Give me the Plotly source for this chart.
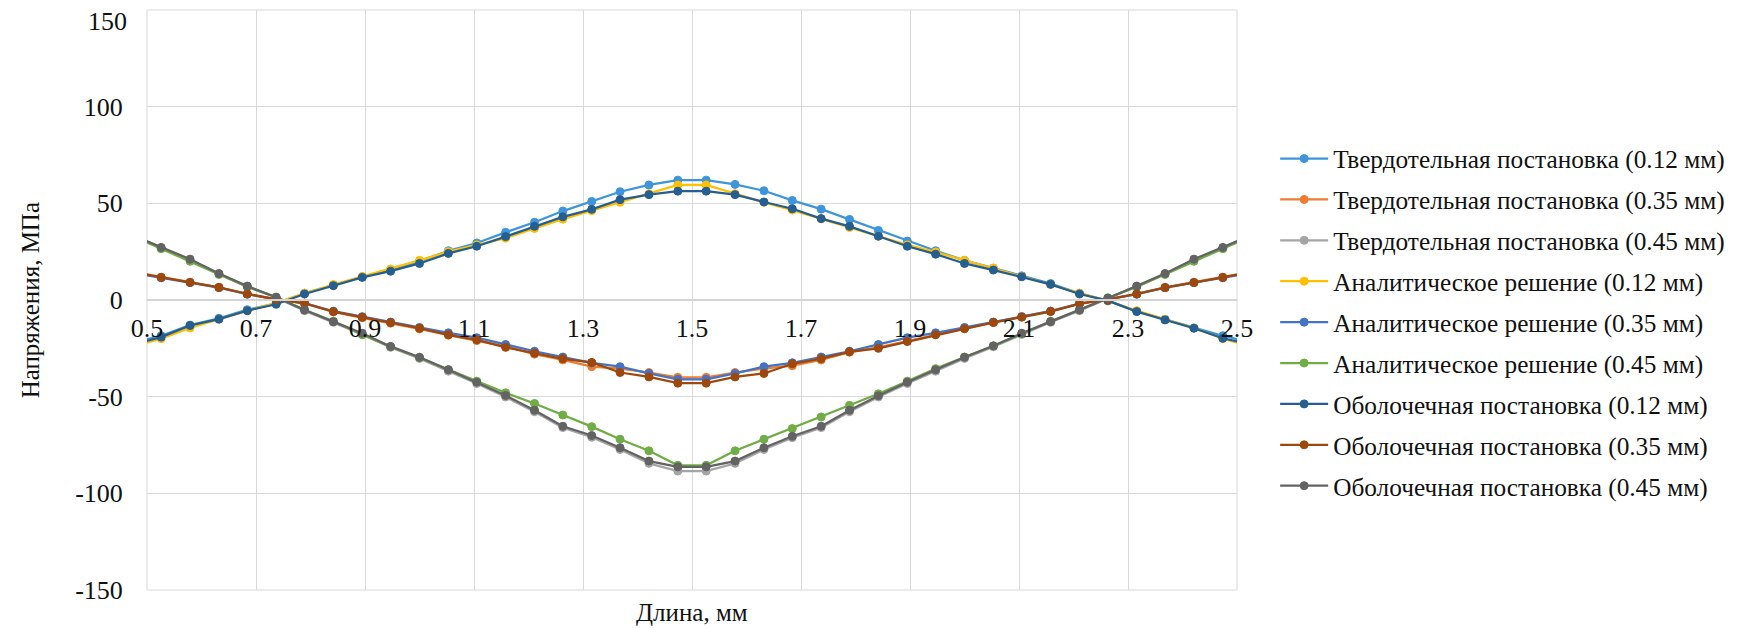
import plotly.graph_objects as go

# Длина, мм (points outside 0.5..2.5 are clipped by the axis range, as in the source)
x_mm = [0.474, 0.526, 0.579, 0.632, 0.684, 0.737, 0.789, 0.842, 0.895, 0.947,
        1.000, 1.053, 1.105, 1.158, 1.211, 1.263, 1.316, 1.368, 1.421, 1.474,
        1.526, 1.579, 1.632, 1.684, 1.737, 1.789, 1.842, 1.895, 1.947, 2.000,
        2.053, 2.105, 2.158, 2.211, 2.263, 2.316, 2.368, 2.421, 2.474, 2.526]

solid_012 = [-22, -18.5, -13, -9.5, -5, -1.8, 3.5, 7.8, 12, 15.8,
             20, 25.5, 29.5, 35, 40.2, 46, 51, 56, 59.5, 62,
             62, 59.8, 56.5, 51.5, 47, 41.7, 36, 30.5, 25.5, 20.5,
             16.5, 12.5, 8.5, 3.5, -0.3, -5.8, -10, -14.5, -18.5, -22]
solid_035 = [14.5, 11.8, 9.2, 6.6, 3.2, 0.4, -1.8, -6.2, -9.2, -12,
             -15, -18.2, -21, -24, -28, -31, -34.5, -35.5, -37.5, -40,
             -40, -37.5, -35.5, -34, -31, -27, -24.5, -21.2, -17.8, -14.6,
             -11.5, -8.6, -5.8, -1.8, 0.4, 3.2, 6.6, 9.2, 11.8, 14.5]
solid_045 = [33.5, 27, 21, 13.5, 7, 1.2, -5.5, -11.5, -17.8, -24.5,
             -30.2, -36.8, -43.2, -50.2, -57.8, -66, -71, -77.3, -84.5, -88.5,
             -88.5, -84.5, -77.3, -71.2, -66, -57.8, -50.2, -43.2, -36.8, -30.2,
             -24.2, -17.8, -11.5, -5.5, 0.8, 7, 13.5, 21, 27, 33.5]
analytic_012 = [-24, -20, -14.5, -10, -5.5, -1.5, 3.5, 8, 12.2, 16,
                20.5, 25, 28.5, 32, 37, 41.8, 46.2, 50.5, 55, 59.5,
                59.5, 55, 50.5, 46.5, 42, 37.5, 33, 28.5, 24.8, 20.5,
                16.5, 12.2, 8, 3.5, -0.5, -5.5, -10, -14.5, -20, -24]
analytic_035 = [14, 11.5, 9, 6.4, 3, 0.3, -1.6, -5.8, -8.6, -11.4,
                -14.2, -17, -19.5, -23, -26.5, -29.5, -32.5, -34.5, -38, -41,
                -41, -38, -34.5, -32.5, -29.5, -26.5, -23, -19.5, -17, -14.2,
                -11.4, -8.6, -5.8, -1.8, 0.3, 3, 6.4, 9, 11.5, 14]
analytic_045 = [33, 26.5, 20, 13.2, 6.8, 1.5, -5, -11, -18, -24.2,
                -29.8, -36, -42, -48, -53.5, -59.5, -65.5, -72, -78, -85.5,
                -85.5, -78, -72, -66.5, -60.5, -54.5, -48.5, -42, -35.5, -29.5,
                -23.8, -17.5, -11, -5, 1.2, 6.8, 13.2, 20, 26.5, 33]
shell_012 = [-23, -19.2, -13.2, -9.9, -5.5, -2.2, 3.1, 7.4, 11.7, 14.9,
             18.9, 24.1, 27.8, 32.8, 38.1, 43, 46.9, 51.9, 54.5, 56.3,
             56.3, 54.5, 50.7, 47.2, 42.1, 38.1, 33, 27.8, 23.7, 18.9,
             15.5, 12, 8.1, 3.1, -0.3, -6, -10.3, -14.6, -19.8, -23]
shell_035 = [14.5, 11.7, 9.1, 6.5, 3.1, 0.3, -1.7, -6, -8.9, -11.7,
             -14.6, -18, -20.6, -24.5, -27.5, -30.4, -32.3, -37.5, -39.8, -43,
             -43, -39.8, -38, -33, -30.4, -26.8, -25, -21.5, -18, -14.9,
             -11.7, -8.9, -6, -2, 0.3, 3.1, 6.4, 9, 11.7, 14.5]
shell_045 = [33.5, 27.2, 21.1, 13.7, 7.2, 1.4, -5.2, -11.2, -17.2, -24,
             -29.6, -36.1, -42.5, -49.4, -57, -65.3, -70.1, -76.4, -83.3, -86.3,
             -86.3, -83.3, -76.4, -70.5, -65.3, -57, -49.5, -42.5, -36.1, -29.6,
             -23.7, -17.2, -11.2, -5.2, 0.9, 7.2, 13.7, 21.1, 27.2, 33.5]

series_names = [
    "Твердотельная постановка (0.12 мм)",
    "Твердотельная постановка (0.35 мм)",
    "Твердотельная постановка (0.45 мм)",
    "Аналитическое решение (0.12 мм)",
    "Аналитическое решение (0.35 мм)",
    "Аналитическое решение (0.45 мм)",
    "Оболочечная постановка (0.12 мм)",
    "Оболочечная постановка (0.35 мм)",
    "Оболочечная постановка (0.45 мм)",
]
series_values = [solid_012, solid_035, solid_045,
                 analytic_012, analytic_035, analytic_045,
                 shell_012, shell_035, shell_045]
series_colors = ["#3E95DB", "#ED7D31", "#A5A5A5",
                 "#FFC000", "#4472C4", "#70AD47",
                 "#255E91", "#9E480E", "#636363"]

x_ticks = [0.5, 0.7, 0.9, 1.1, 1.3, 1.5, 1.7, 1.9, 2.1, 2.3, 2.5]
x_tick_text = ["0.5", "0.7", "0.9", "1.1", "1.3", "1.5", "1.7", "1.9", "2.1", "2.3", "2.5"]
y_ticks = [-150, -100, -50, 0, 50, 100]
y_tick_text = ["-150", "-100", "-50", "0", "50", "100"]
y_top_tick = "150"

FONT = "Liberation Serif"
TXT = "#111111"

fig = go.Figure()
for i, (name, vals, col) in enumerate(zip(series_names, series_values, series_colors)):
    fig.add_trace(go.Scatter(
        x=x_mm, y=vals, name=name, mode="lines+markers",
        line=dict(color=col, width=2.25),
        marker=dict(color=col, size=8, line=dict(color=col, width=1)),
        legendgroup=f"g{i}",
        cliponaxis=True,
    ))

fig.update_layout(
    width=1747, height=628,
    margin=dict(l=147, r=510, t=10, b=38),
    paper_bgcolor="white", plot_bgcolor="white",
    font=dict(family=FONT, size=25, color=TXT),
    showlegend=True,
    legend=dict(
        x=1.035, xanchor="left", y=0.461, yanchor="middle",
        font=dict(family=FONT, size=25.3, color=TXT),
        tracegroupgap=5, itemwidth=48,
        bgcolor="rgba(0,0,0,0)",
    ),
    xaxis=dict(
        range=[0.5, 2.5], tickvals=x_ticks, ticktext=x_tick_text,
        showgrid=True, gridcolor="#d9d9d9", gridwidth=1,
        zeroline=False, anchor="free", position=0.5,
        showline=True, linecolor="#d4d4d4", linewidth=2,
        ticks="outside", ticklen=0, ticklabelstandoff=5,
        tickfont=dict(family=FONT, size=26, color=TXT),
    ),
    yaxis=dict(
        range=[-150, 150], tickvals=y_ticks, ticktext=y_tick_text,
        showgrid=True, gridcolor="#d9d9d9", gridwidth=1,
        zeroline=False, showline=False,
        ticks="outside", ticklen=10, tickcolor="rgba(0,0,0,0)", ticklabelstandoff=8,
        tickfont=dict(family=FONT, size=26, color=TXT),
    ),
    shapes=[dict(type="rect", xref="paper", yref="paper", x0=0, x1=1, y0=0, y1=1,
                 line=dict(color="#d9d9d9", width=1), layer="below")],
    annotations=[
        dict(text=y_top_tick, xref="paper", yref="y", x=-0.0165, y=144,
             xanchor="right", yanchor="middle", showarrow=False,
             font=dict(family=FONT, size=26, color=TXT)),
        dict(text="Длина, мм", xref="paper", yref="paper", x=0.5, y=-0.038,
             xanchor="center", yanchor="middle", showarrow=False,
             font=dict(family=FONT, size=25, color=TXT)),
        dict(text="Напряжения, МПа", xref="paper", yref="paper", x=-0.107, y=0.5,
             xanchor="center", yanchor="middle", textangle=-90, showarrow=False,
             font=dict(family=FONT, size=25, color=TXT)),
    ],
)

fig.write_html("out.html")
